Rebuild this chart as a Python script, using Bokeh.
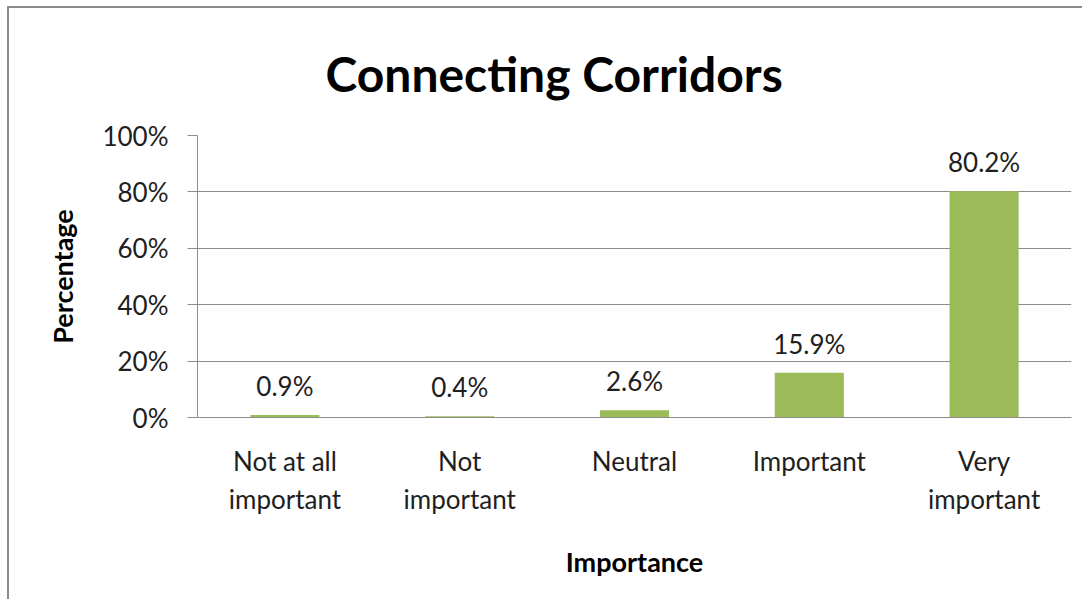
from bokeh.plotting import figure
from bokeh.models import (FactorRange, Range1d, FixedTicker, PrintfTickFormatter,
                          ColumnDataSource, Title)
from bokeh.core.properties import value
from bokeh.embed import file_html
from bokeh.resources import INLINE

# ---- data ----
categories = ["Not at all\nimportant", "Not\nimportant", "Neutral", "Important", "Very\nimportant"]
percentages = [0.9, 0.4, 2.6, 15.9, 80.2]
value_labels = ["0.9%", "0.4%", "2.6%", "15.9%", "80.2%"]
y_ticks = [0, 20, 40, 60, 80, 100]

# ---- style ----
FONT = "Lato"
TEXT = "#1e1e1e"
GRID = "#8c8c8c"
BAR = "#9bbb59"

src = ColumnDataSource(dict(cat=categories, pct=percentages, lbl=value_labels))

p = figure(width=1075, height=593,
           x_range=FactorRange(factors=categories, range_padding=0),
           y_range=Range1d(0, 100),
           output_backend="svg", toolbar_location=None,
           min_border_left=188, min_border_right=13,
           min_border_top=126, min_border_bottom=184)

p.margin = (6, 0, 0, 7)
p.styles = {"border-top": "2px solid #8c8c8c", "border-left": "2px solid #8c8c8c"}

p.vbar(x="cat", top="pct", width=0.395, source=src, color=BAR, line_color=None)
p.text(x="cat", y="pct", text="lbl", source=src, text_align="center",
       text_baseline="alphabetic", y_offset=-29, text_font=value(FONT),
       text_font_size="26px", text_color=TEXT)

p.title = Title(text="Connecting Corridors", align="left", offset=128, standoff=68,
                text_font=FONT, text_font_size="48px", text_font_style="bold",
                text_color="black")

p.outline_line_color = None
p.background_fill_color = "white"
p.border_fill_color = "white"

p.xgrid.visible = False
p.ygrid.grid_line_color = GRID
p.ygrid.ticker = FixedTicker(ticks=y_ticks)

p.yaxis.ticker = FixedTicker(ticks=y_ticks)
p.yaxis.formatter = PrintfTickFormatter(format="%d%%")
p.yaxis.major_tick_out = 10
p.yaxis.major_tick_in = 0
p.yaxis.minor_tick_line_color = None
p.yaxis.major_label_standoff = 19
p.yaxis.axis_line_color = GRID
p.yaxis.major_tick_line_color = GRID
p.yaxis.major_label_text_font = FONT
p.yaxis.major_label_text_font_size = "26px"
p.yaxis.major_label_text_color = TEXT
p.yaxis.axis_label = "Percentage"
p.yaxis.axis_label_text_font = FONT
p.yaxis.axis_label_text_font_size = "27px"
p.yaxis.axis_label_text_font_style = "bold"
p.yaxis.axis_label_text_color = "black"
p.yaxis.axis_label_standoff = 20

p.xaxis.axis_line_color = GRID
p.xaxis.major_tick_line_color = None
p.xaxis.minor_tick_line_color = None
p.xaxis.major_label_standoff = 21
p.xaxis.major_label_text_font = FONT
p.xaxis.major_label_text_font_size = "26px"
p.xaxis.major_label_text_color = TEXT
p.xaxis.axis_label = "Importance"
p.xaxis.axis_label_text_font = FONT
p.xaxis.axis_label_text_font_size = "27px"
p.xaxis.axis_label_text_font_style = "bold"
p.xaxis.axis_label_text_color = "black"
p.xaxis.axis_label_standoff = 27

open("out.html", "w").write(file_html(p, INLINE))
